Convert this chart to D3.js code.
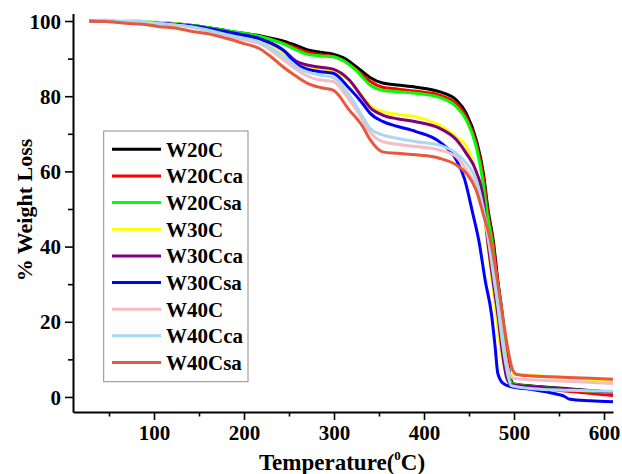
<!DOCTYPE html>
<html><head><meta charset="utf-8">
<script src="https://cdn.jsdelivr.net/npm/d3@7"></script>
<style>body{margin:0;background:#fff}svg{display:block}</style>
</head><body><svg id="c" width="622" height="474"></svg>
<script>
const seriesNames = ["W20C","W20Cca","W20Csa","W30C","W30Cca","W30Csa","W40C","W40Cca","W40Csa"];
const seriesColors = ["#000000","#ff0000","#00ff00","#ffff00","#800080","#0000ff","#f4bcc4","#aad8f2","#e8583c"];
const xTicks = [100,200,300,400,500,600];
const xMinorTicks = [50,150,250,350,450,550];
const yTicks = [0,20,40,60,80,100];
const yMinorTicks = [10,30,50,70,90];

const W20C = [[28,100],[100,99.6],[143,98.8],[184,97.3],[221,95.9],[245,94.6],[258,93.5],[270,92.4],[285,91.7],[299,91.2],[310,90.3],[325,87.8],[340,85],[354,83.5],[370,83],[391,82.4],[417,81.2],[436,79],[447,75.4],[458,68.4],[466,59.5],[471,50],[477,41.5],[482,31],[487,22],[491,13],[495,6.5],[499,3.5],[520,2.9],[560,2.2],[610,1.2]];
const W20Cca = [[28,100],[100,99.6],[143,98.7],[184,97.1],[221,95.5],[245,94],[258,92.8],[270,91.7],[285,91],[299,90.6],[310,89.6],[325,87],[340,84],[354,82.4],[370,81.9],[391,81.3],[417,80.3],[436,78],[447,74.5],[458,67.5],[466,58.5],[471,49],[477,40.5],[482,30],[487,21],[491,12],[495,5.5],[499,3.2],[520,2.6],[560,1.5],[610,0.4]];
const W20Csa = [[28,100],[100,99.7],[143,98.8],[184,97.3],[221,95.7],[245,93.8],[258,92.3],[270,91.2],[285,90.7],[299,90.5],[310,89.5],[325,86.8],[340,83],[354,81.6],[370,81.2],[391,80.8],[417,79.7],[436,77.2],[447,73.7],[458,66.6],[465,58],[470,49],[476,40.5],[481,30],[486,21],[490,12],[494,5.5],[498,3.5],[520,2.8],[560,2],[610,1.1]];
const W30C = [[28,100],[100,99.7],[143,98.6],[184,96.5],[221,94.8],[245,91.5],[258,88.9],[270,87.8],[285,87.2],[299,86.7],[317,84],[332,79.8],[340,77.5],[354,75.9],[370,75.2],[391,74.5],[417,72.3],[436,69.2],[447,66.6],[458,59.5],[466,50.6],[470,42],[475,32],[480,22.3],[485,13],[490,7.5],[494,6.2],[510,5.9],[560,5.1],[610,4.2]];
const W30Cca = [[28,100],[100,99.5],[143,98.6],[184,96.8],[221,95],[245,92],[258,89.3],[270,88.3],[285,87.7],[299,87.2],[317,84.3],[332,79.5],[340,77],[354,75],[370,74],[391,73.2],[417,71.5],[436,68.4],[447,64.8],[458,60],[466,52.4],[470,43],[476,32],[482,22],[487,12],[492,5],[497,3.3],[520,2.7],[560,2],[610,1.3]];
const W30Csa = [[28,100],[60,99.8],[100,99.5],[143,98.7],[184,97],[221,95],[245,92],[258,88.6],[270,87.2],[285,86.5],[299,86.1],[317,82.1],[332,78],[340,75.5],[354,73.3],[370,72],[391,70.6],[417,67.9],[436,63],[445,58],[454,49],[461,41.5],[468,31],[475,22],[479,13.4],[482,6.3],[488,3.6],[497,2.7],[520,2],[547,0.8],[555,0.3],[562,-0.6],[585,-1],[610,-1.3]];
const W40C = [[28,100],[100,99.4],[143,98.3],[184,95.8],[221,93.6],[245,89.5],[262,86.5],[280,84.5],[299,83.9],[317,79],[332,73.7],[340,70.5],[354,67.9],[370,67.2],[391,66.6],[417,65.7],[436,63.9],[447,60.4],[458,55.9],[466,49],[472,41],[478,31],[484,22],[489,13],[494,7],[499,5],[520,4.6],[560,4.2],[610,3.6]];
const W40Cca = [[28,100],[45,100.3],[60,99.9],[80,100.1],[100,99.5],[143,98.4],[184,96.2],[221,94],[245,90.5],[262,87.3],[280,85.8],[299,85],[317,80.3],[332,74.5],[340,71.5],[354,69.7],[370,68.8],[391,67.9],[417,67],[436,64.8],[447,62.2],[458,57.7],[466,50],[472,42],[478,32],[483,22.3],[488,13],[493,6],[497,3],[520,2.2],[560,1.8],[610,1.5]];
const W40Csa = [[28,100],[50,99.8],[69,99.4],[90,99.1],[106,98.5],[125,98.1],[143,97.2],[160,96.6],[180,95.4],[200,94],[217,92.7],[230,90.5],[245,87.5],[258,85.3],[270,83.5],[285,82.3],[299,81.6],[317,76.3],[332,71.9],[340,68.5],[354,65.2],[370,64.8],[391,64.4],[417,63.5],[436,61.7],[447,59.5],[458,55],[466,48.5],[474,41.5],[481,32],[487,22.3],[493,13],[498,7.5],[503,6],[520,5.6],[560,5.2],[610,4.7]];
const seriesData = [W20C,W20Cca,W20Csa,W30C,W30Cca,W30Csa,W40C,W40Cca,W40Csa];

const svg = d3.select("#c");
const x = d3.scaleLinear().domain([10,610]).range([73,613]);
const y = d3.scaleLinear().domain([-4,102]).range([412,13.5]);
const font = "'Liberation Serif','Times New Roman',serif";

const line = d3.line().x(d=>x(d[0])).y(d=>y(d[1])).curve(d3.curveMonotoneX);
const gl = svg.append("g");
seriesData.forEach((s,i)=>{
  gl.append("path").attr("d",line(s)).attr("fill","none")
    .attr("stroke",seriesColors[i]).attr("stroke-width",3).attr("stroke-linejoin","round");
});

// axes
const xa = svg.append("g").attr("transform","translate(0,412)")
  .call(d3.axisBottom(x).tickValues(xTicks).tickSize(8).tickSizeOuter(0).tickPadding(5));
svg.append("g").attr("transform","translate(0,412)")
  .call(d3.axisBottom(x).tickValues(xMinorTicks).tickSize(4.5).tickFormat("")).select(".domain").remove();
const ya = svg.append("g").attr("transform","translate(73,0)")
  .call(d3.axisLeft(y).tickValues(yTicks).tickSize(8).tickSizeOuter(0).tickPadding(4));
svg.append("g").attr("transform","translate(73,0)")
  .call(d3.axisLeft(y).tickValues(yMinorTicks).tickSize(5).tickFormat("")).select(".domain").remove();
svg.selectAll(".domain").attr("stroke","#000").attr("stroke-width",2);
svg.selectAll(".tick line").attr("stroke","#000").attr("stroke-width",1.6);
svg.selectAll(".tick text").attr("font-family",font).attr("font-weight","bold").attr("font-size",21).attr("fill","#000");
xa.selectAll(".tick text").attr("dy","0.72em");
ya.selectAll(".tick text").attr("dy","0.34em");

// axis titles
const xt = svg.append("text").attr("x",342).attr("y",470).attr("text-anchor","middle")
  .attr("font-family",font).attr("font-weight","bold").attr("font-size",23);
xt.append("tspan").text("Temperature(");
xt.append("tspan").attr("font-size",13).attr("dy",-10).text("0");
xt.append("tspan").attr("dy",10).text("C)");
svg.append("text").attr("transform","translate(32,210) rotate(-90)").attr("text-anchor","middle")
  .attr("font-family",font).attr("font-weight","bold").attr("font-size",22).text("% Weight Loss");

// legend
const lg = svg.append("g");
lg.append("rect").attr("x",103.7).attr("y",131).attr("width",144.3).attr("height",250.7)
  .attr("fill","#fff").attr("stroke","#8c8c8c").attr("stroke-width",1);
seriesNames.forEach((n,i)=>{
  const yy = 149.3 + i*26.65;
  lg.append("line").attr("x1",112).attr("x2",161).attr("y1",yy).attr("y2",yy)
    .attr("stroke",seriesColors[i]).attr("stroke-width",3);
  lg.append("text").attr("x",166).attr("y",yy+7.5).attr("font-family",font)
    .attr("font-weight","bold").attr("font-size",21).text(n);
});
</script></body></html>
